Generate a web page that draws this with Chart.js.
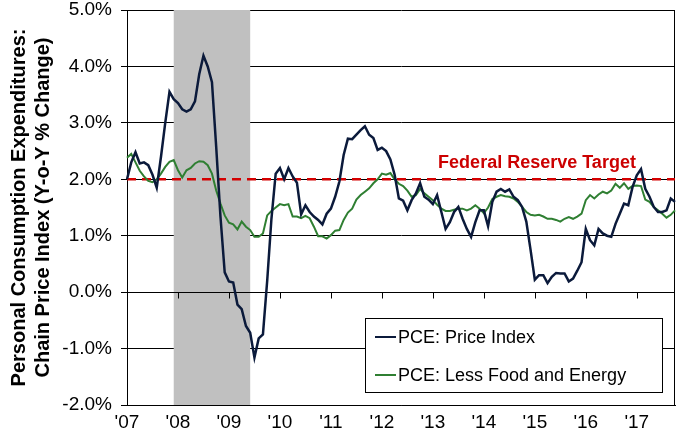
<!DOCTYPE html>
<html>
<head>
<meta charset="utf-8">
<script src="https://cdn.jsdelivr.net/npm/chart.js@4"></script>
<style>
  html, body { margin: 0; padding: 0; background: #fff; }
</style>
</head>
<body>
<canvas id="myChart" width="677" height="438"></canvas>
<script>
// year-over-year % change, monthly Jan 2007 - Oct 2017
const pceHeadline = [
  2.0, 2.3, 2.48, 2.28, 2.3, 2.25, 2.08, 1.85, 2.4, 3.0, 3.55, 3.42,
  3.35, 3.24, 3.2, 3.24, 3.38, 3.86, 4.19, 4.0, 3.72, 2.57, 1.34, 0.35,
  0.19, 0.17, -0.22, -0.3, -0.6, -0.72, -1.16, -0.82, -0.75, 0.2, 1.3, 2.1,
  2.2, 2.0, 2.2, 2.05, 1.94, 1.38, 1.54, 1.42, 1.34, 1.28, 1.2, 1.39,
  1.48, 1.69, 1.96, 2.43, 2.72, 2.71, 2.79, 2.87, 2.94, 2.79, 2.73, 2.52,
  2.56, 2.5, 2.35, 2.08, 1.66, 1.62, 1.45, 1.63, 1.75, 1.93, 1.69, 1.64,
  1.56, 1.72, 1.42, 1.12, 1.24, 1.42, 1.51, 1.3, 1.12, 0.98, 1.24, 1.45,
  1.45, 1.17, 1.6, 1.78, 1.83, 1.78, 1.82, 1.69, 1.63, 1.51, 1.25, 0.75,
  0.22, 0.3, 0.3, 0.16, 0.27, 0.34, 0.33, 0.33, 0.19, 0.24, 0.38, 0.53,
  1.12, 0.92, 0.83, 1.12, 1.04, 1.0, 0.98, 1.21, 1.39, 1.57, 1.54, 1.86,
  2.07, 2.18, 1.83, 1.69, 1.51, 1.42, 1.42, 1.45, 1.66, 1.6
];
const pceCore = [
  2.38, 2.45, 2.3, 2.15, 2.05, 1.97, 1.95, 2.0, 2.1, 2.22, 2.31, 2.34,
  2.16, 2.03, 2.16, 2.2, 2.28, 2.32, 2.31, 2.25, 2.1, 1.8, 1.57, 1.36,
  1.23, 1.2, 1.11, 1.25, 1.16, 1.1, 0.98, 0.98, 1.04, 1.36, 1.44, 1.5,
  1.56, 1.54, 1.56, 1.34, 1.34, 1.31, 1.35, 1.31, 1.16, 0.99, 0.99, 0.95,
  1.01, 1.09, 1.1, 1.28, 1.41, 1.48, 1.64, 1.72, 1.78, 1.84, 1.93, 2.0,
  2.1, 2.08, 2.11, 2.0, 1.92, 1.88, 1.8, 1.69, 1.72, 1.83, 1.75, 1.69,
  1.63, 1.55, 1.48, 1.44, 1.44, 1.46, 1.48, 1.48, 1.45, 1.48, 1.54, 1.48,
  1.4, 1.5, 1.65, 1.69, 1.72, 1.7, 1.69, 1.66, 1.6, 1.51, 1.42, 1.37,
  1.36, 1.37, 1.34, 1.3, 1.3, 1.28, 1.25, 1.3, 1.33, 1.3, 1.34, 1.39,
  1.63, 1.72, 1.66, 1.73, 1.78, 1.75, 1.8, 1.92, 1.85, 1.93, 1.83, 1.88,
  1.89, 1.88, 1.64, 1.6, 1.51, 1.45, 1.39, 1.32, 1.37, 1.45
];
const fedTarget = 2.0;
const targetLabel = "Federal Reserve Target";
const recession = ["2007-12", "2009-06"];
const years = [2007, 2008, 2009, 2010, 2011, 2012, 2013, 2014, 2015, 2016, 2017];

const months = [];
years.forEach((y) => {
  for (let m = 1; m <= 12; m++) months.push(y + "-" + String(m).padStart(2, "0"));
});
months.length = pceHeadline.length;

const FONT = "'Liberation Sans', Arial, sans-serif";

const decorations = {
  id: "decorations",
  beforeDatasetsDraw(chart) {
    const { ctx, chartArea: a, scales: { x, y } } = chart;
    ctx.save();
    // recession shading
    const x0 = x.getPixelForValue(months.indexOf(recession[0]));
    const x1 = x.getPixelForValue(months.indexOf(recession[1]));
    ctx.fillStyle = "#c0c0c0";
    ctx.fillRect(x0, a.top, x1 - x0, a.bottom - a.top);
    // zero line with year ticks
    const y0 = Math.round(y.getPixelForValue(0)) + 0.5;
    ctx.strokeStyle = "#000";
    ctx.lineWidth = 1;
    ctx.beginPath();
    ctx.moveTo(a.left, y0);
    ctx.lineTo(a.right, y0);
    months.forEach((mo, i) => {
      if (mo.endsWith("-01")) {
        const px = Math.round(x.getPixelForValue(i)) + 0.5;
        ctx.moveTo(px, y0);
        ctx.lineTo(px, y0 + 6);
      }
    });
    // right border
    ctx.moveTo(Math.round(a.right) - 0.5, a.top);
    ctx.lineTo(Math.round(a.right) - 0.5, a.bottom);
    ctx.stroke();
    ctx.restore();
  },
  afterDatasetsDraw(chart) {
    const { ctx } = chart;
    ctx.save();
    // target label
    ctx.fillStyle = "#cc0000";
    ctx.font = "bold 18px " + FONT;
    ctx.textAlign = "center";
    ctx.textBaseline = "middle";
    ctx.fillText(targetLabel, 537, 163);
    // legend box
    ctx.fillStyle = "#fff";
    ctx.fillRect(365, 318, 297, 74);
    ctx.strokeStyle = "#000";
    ctx.lineWidth = 1;
    ctx.strokeRect(365.5, 318.5, 297, 74);
    ctx.font = "18px " + FONT;
    ctx.textAlign = "left";
    const items = chart.data.datasets.filter((d) => d.label !== targetLabel);
    items.forEach((d, i) => {
      const ry = 337 + i * 38;
      ctx.strokeStyle = d.borderColor;
      ctx.lineWidth = 2;
      ctx.beginPath();
      ctx.moveTo(375, ry);
      ctx.lineTo(396, ry);
      ctx.stroke();
      ctx.fillStyle = "#000";
      ctx.fillText(d.label, 398, ry + 1);
    });
    ctx.restore();
  }
};

const config = {
  type: "line",
  data: {
    labels: months,
    datasets: [
      {
        label: "PCE: Price Index",
        data: pceHeadline,
        borderColor: "#0b1a3b",
        borderWidth: 2.5,
        pointRadius: 0,
        tension: 0,
        order: 1
      },
      {
        label: "PCE: Less Food and Energy",
        data: pceCore,
        borderColor: "#2f7f32",
        borderWidth: 2,
        pointRadius: 0,
        tension: 0,
        order: 2
      },
      {
        label: targetLabel,
        data: months.map(() => fedTarget),
        borderColor: "#d40000",
        borderWidth: 2.5,
        borderDash: [9, 6],
        pointRadius: 0,
        order: 3
      }
    ]
  },
  options: {
    responsive: false,
    animation: false,
    devicePixelRatio: 1,
    layout: { padding: { top: 0, right: 2, bottom: 0, left: 0 } },
    plugins: { legend: { display: false }, tooltip: { enabled: false } },
    scales: {
      x: {
        type: "category",
        grid: { display: false, drawTicks: false },
        border: { display: true, color: "#000", width: 1 },
        ticks: {
          autoSkip: false,
          maxRotation: 0,
          padding: 6,
          color: "#000",
          font: { family: FONT, size: 19 },
          callback(v) {
            const lab = this.getLabelForValue(v);
            return lab.endsWith("-01") ? "'" + lab.slice(2, 4) : null;
          }
        },
        afterFit(s) { s.height = 33; }
      },
      y: {
        min: -2,
        max: 5,
        ticks: {
          stepSize: 1,
          padding: 9,
          color: "#000",
          font: { family: FONT, size: 19 },
          callback: (v) => v.toFixed(1) + "%"
        },
        grid: { color: "#000", lineWidth: 1, tickLength: 6 },
        border: { color: "#000", width: 1 },
        title: {
          display: true,
          text: ["Personal Consumption Expenditures:", "Chain Price Index (Y-o-Y % Change)"],
          color: "#000",
          font: { family: FONT, size: 20, weight: "bold" },
          padding: { top: 7, bottom: 0 }
        },
        afterFit(s) {
          s.width = 127;
          s.paddingTop = 10;
          s.paddingBottom = 0;
        }
      }
    }
  },
  plugins: [decorations]
};

new Chart(document.getElementById("myChart"), config);
</script>
</body>
</html>
